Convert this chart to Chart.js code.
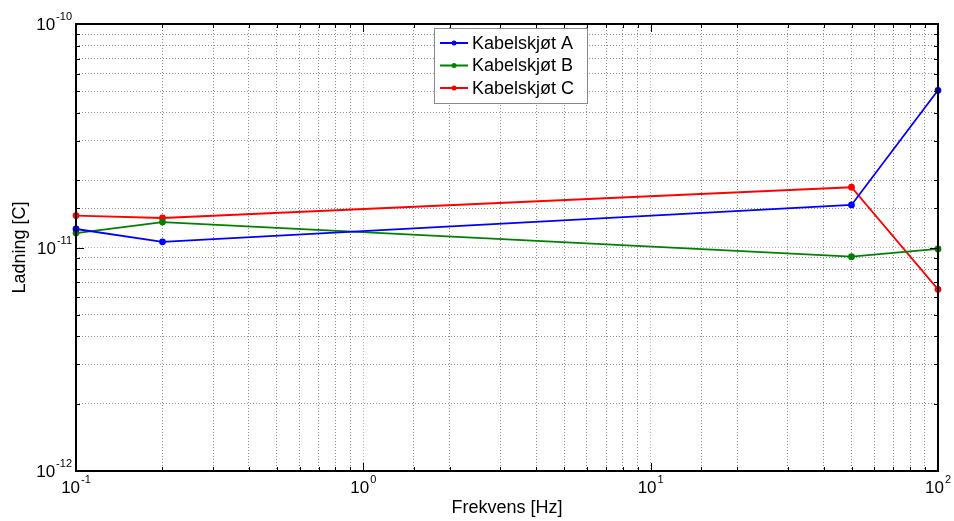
<!DOCTYPE html>
<html>
<head>
<meta charset="utf-8">
<script src="https://cdn.jsdelivr.net/npm/chart.js@4/dist/chart.umd.min.js"></script>
<style>
  html, body { margin: 0; padding: 0; background: #fff; }
  #wrap { width: 954px; height: 521px; position: relative; }
</style>
</head>
<body>
<div id="wrap"><canvas id="c" width="954" height="521"></canvas></div>
<script>
// ---- data ----
const frequencies = [0.1, 0.2, 50, 100];
const kabelA = [1.21e-11, 1.06e-11, 1.55e-11, 5.05e-11];
const kabelB = [1.16e-11, 1.30e-11, 9.1e-12, 9.85e-12];
const kabelC = [1.39e-11, 1.355e-11, 1.86e-11, 6.5e-12];
const seriesNames = ['Kabelskjøt A', 'Kabelskjøt B', 'Kabelskjøt C'];
const xTickExponents = [-1, 0, 1, 2];
const yTickExponents = [-12, -11, -10];
const xTitle = 'Frekvens [Hz]';
const yTitle = 'Ladning [C]';

const colors = ['#0000ff', '#008000', '#ff0000'];
const FONT = '"Liberation Sans", Arial, sans-serif';

function toPoints(vals) { return frequencies.map((f, i) => ({x: f, y: vals[i]})); }

function isDecade(v) {
  const l = Math.log10(v);
  return Math.abs(l - Math.round(l)) < 1e-6;
}

const gridOpts = {
  drawTicks: false,
  color: ctx => (ctx.tick && isDecade(ctx.tick.value)) ? '#b4b4b4' : '#8c8c8c',
  lineWidth: 1
};

const decorPlugin = {
  id: 'decor',
  afterDraw(chart) {
    const ctx = chart.ctx;
    const a = chart.chartArea;
    const xs = chart.scales.x, ys = chart.scales.y;
    ctx.save();
    // tick marks inside, on all four sides
    ctx.strokeStyle = '#000';
    ctx.lineWidth = 1;
    ctx.beginPath();
    xs.ticks.forEach(t => {
      const px = Math.round(xs.getPixelForValue(t.value)) + 0.5;
      const len = isDecade(t.value) ? 8 : 4;
      ctx.moveTo(px, a.bottom); ctx.lineTo(px, a.bottom - len);
      ctx.moveTo(px, a.top); ctx.lineTo(px, a.top + len);
    });
    ys.ticks.forEach(t => {
      const py = Math.round(ys.getPixelForValue(t.value)) + 0.5;
      const len = isDecade(t.value) ? 8 : 4;
      ctx.moveTo(a.left, py); ctx.lineTo(a.left + len, py);
      ctx.moveTo(a.right, py); ctx.lineTo(a.right - len, py);
    });
    ctx.stroke();
    // axes box
    ctx.lineWidth = 2;
    ctx.strokeRect(a.left, a.top, a.right - a.left, a.bottom - a.top);

    // tick labels 10^n
    ctx.fillStyle = '#000';
    ctx.textBaseline = 'alphabetic';
    const baseFont = '17px ' + FONT;
    const expFont = '11px ' + FONT;
    function measure(e) {
      ctx.font = baseFont; const w1 = ctx.measureText('10').width;
      ctx.font = expFont; const w2 = ctx.measureText(String(e)).width;
      return [w1, w2];
    }
    function drawPow(e, x, baseY) {
      ctx.font = baseFont; ctx.textAlign = 'left';
      ctx.fillText('10', x, baseY);
      const w1 = ctx.measureText('10').width;
      ctx.font = expFont;
      ctx.fillText(String(e), x + w1 + 1, baseY - 10);
    }
    yTickExponents.forEach(e => {
      const py = ys.getPixelForValue(Math.pow(10, e));
      const [w1, w2] = measure(e);
      const x = a.left - 4 - (w1 + 1 + w2);
      drawPow(e, x, py + 6);
    });
    xTickExponents.forEach(e => {
      const px = xs.getPixelForValue(Math.pow(10, e));
      const [w1, w2] = measure(e);
      const x = px - (w1 + 1 + w2) / 2;
      drawPow(e, x, a.bottom + 22);
    });

    // legend
    const lx = 434, ly = 28, lw = 153, lh = 75;
    ctx.fillStyle = '#fff';
    ctx.fillRect(lx, ly, lw, lh);
    ctx.strokeStyle = '#8a8a8a';
    ctx.lineWidth = 1;
    ctx.strokeRect(lx + 0.5, ly + 0.5, lw, lh);
    ctx.font = '18px ' + FONT;
    ctx.textAlign = 'left';
    ctx.textBaseline = 'middle';
    seriesNames.forEach((name, i) => {
      const cy = ly + 15 + i * 22.5;
      ctx.strokeStyle = colors[i];
      ctx.lineWidth = 2;
      ctx.beginPath(); ctx.moveTo(440, cy); ctx.lineTo(468, cy); ctx.stroke();
      ctx.fillStyle = colors[i];
      ctx.beginPath(); ctx.arc(454, cy, 2.5, 0, Math.PI * 2); ctx.fill();
      ctx.fillStyle = '#000';
      ctx.fillText(name, 472, cy + 1);
    });
    ctx.restore();
  }
};

const datasets = [kabelA, kabelB, kabelC].map((vals, i) => ({
  label: seriesNames[i],
  data: toPoints(vals),
  borderColor: colors[i],
  backgroundColor: colors[i],
  borderWidth: 1.8,
  pointRadius: 2.5,
  pointHoverRadius: 2.5,
  fill: false,
  tension: 0,
  clip: false
}));

new Chart(document.getElementById('c'), {
  type: 'line',
  data: { datasets },
  plugins: [decorPlugin],
  options: {
    responsive: false,
    animation: false,
    events: [],
    layout: { padding: { left: 0, right: 16, top: 24, bottom: 0 } },
    plugins: { legend: { display: false }, tooltip: { enabled: false } },
    scales: {
      x: {
        type: 'logarithmic',
        min: 0.1, max: 100,
        grid: gridOpts,
        border: { display: false, dash: [1, 2] },
        ticks: { display: false, autoSkip: false },
        title: { display: true, text: xTitle, color: '#000',
                 font: { family: FONT, size: 18 }, padding: { top: 0, bottom: 2 } },
        afterFit: s => { s.height = 50; }
      },
      y: {
        type: 'logarithmic',
        min: 1e-12, max: 1e-10,
        grid: gridOpts,
        border: { display: false, dash: [1, 2] },
        ticks: { display: false, autoSkip: false },
        title: { display: true, text: yTitle, color: '#000',
                 font: { family: FONT, size: 18 }, padding: { top: 9, bottom: 0 } },
        afterFit: s => { s.width = 76; }
      }
    }
  }
});
</script>
</body>
</html>
